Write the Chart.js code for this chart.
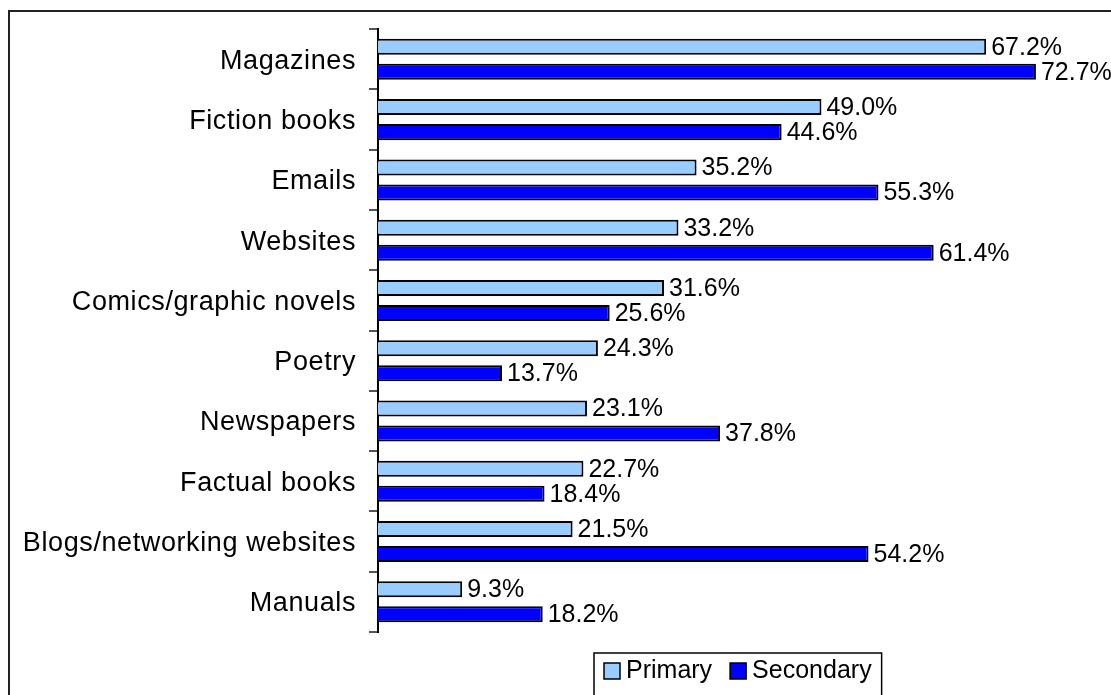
<!DOCTYPE html>
<html>
<head>
<meta charset="utf-8">
<script src="https://cdn.jsdelivr.net/npm/chart.js"></script>
<style>
  html, body { margin: 0; padding: 0; background: #fff; overflow: hidden; }
  #wrap { position: relative; width: 1111px; height: 695px; }
</style>
</head>
<body>
<div id="wrap"><canvas id="chart" width="1111" height="695"></canvas></div>
<script>
const categories = [
    "Magazines", "Fiction books", "Emails", "Websites", "Comics/graphic novels",
    "Poetry", "Newspapers", "Factual books", "Blogs/networking websites", "Manuals"
];
const primary   = [67.2, 49.0, 35.2, 33.2, 31.6, 24.3, 23.1, 22.7, 21.5, 9.3];
const secondary = [72.7, 44.6, 55.3, 61.4, 25.6, 13.7, 37.8, 18.4, 54.2, 18.2];
const seriesNames = ["Primary", "Secondary"];
const seriesColors = ["#99ccff", "#0000ff"];

const FAMILY = "'Liberation Sans', Arial, sans-serif";
const FONT = "25px " + FAMILY;

// outer frame of the chart object
const frame = {
    id: "frame",
    beforeDraw(chart) {
        const ctx = chart.ctx;
        ctx.save();
        ctx.fillStyle = "#fff";
        ctx.fillRect(0, 0, chart.width, chart.height);
        ctx.strokeStyle = "#222";
        ctx.lineWidth = 2;
        ctx.beginPath();
        ctx.moveTo(9, chart.height + 5);
        ctx.lineTo(9, 11);
        ctx.lineTo(chart.width + 5, 11);
        ctx.stroke();
        ctx.restore();
        ctx.letterSpacing = "0.6px";
    },
    beforeDatasetsDraw(chart) {
        chart.ctx.letterSpacing = "0px";
    }
};

// percentages to the right of each bar
const valueLabels = {
    id: "valueLabels",
    afterDatasetsDraw(chart) {
        const ctx = chart.ctx;
        ctx.save();
        ctx.font = FONT;
        ctx.fillStyle = "#000";
        ctx.textAlign = "left";
        ctx.textBaseline = "middle";
        chart.data.datasets.forEach((ds, i) => {
            chart.getDatasetMeta(i).data.forEach((bar, j) => {
                ctx.fillText(ds.data[j].toFixed(1) + "%", bar.x + 5, bar.y + 1);
            });
        });
        ctx.restore();
    }
};

// boxed legend under the plot
const boxLegend = {
    id: "boxLegend",
    afterDraw(chart) {
        const ctx = chart.ctx;
        const area = chart.chartArea;
        ctx.save();
        ctx.font = FONT;
        ctx.textBaseline = "middle";
        const sw = 16, gapText = 6, gapItem = 18, pad = 10;
        const items = chart.data.datasets.map(ds => ({
            label: ds.label, color: ds.backgroundColor, w: ctx.measureText(ds.label).width
        }));
        let total = 0;
        items.forEach((it, i) => { total += sw + gapText + it.w + (i ? gapItem : 0); });
        const boxW = total + pad * 2;
        const boxL = Math.round((area.left + area.right) / 2 - boxW / 2) - 2;
        const boxT = 653;
        ctx.strokeStyle = "#000";
        ctx.lineWidth = 1.5;
        ctx.strokeRect(boxL, boxT, boxW, 60);
        let x = boxL + pad;
        const cy = 671;
        items.forEach((it, i) => {
            if (i) x += gapItem;
            ctx.fillStyle = it.color;
            ctx.fillRect(x, cy - 8, sw, sw);
            ctx.lineWidth = 1.5;
            ctx.strokeRect(x, cy - 8, sw, sw);
            x += sw + gapText;
            ctx.fillStyle = "#000";
            ctx.fillText(it.label, x, cy);
            x += it.w;
        });
        ctx.restore();
    }
};

new Chart(document.getElementById("chart"), {
    type: "bar",
    data: {
        labels: categories,
        datasets: [
            { label: seriesNames[0], data: primary, backgroundColor: seriesColors[0] },
            { label: seriesNames[1], data: secondary, backgroundColor: seriesColors[1] }
        ]
    },
    options: {
        indexAxis: "y",
        responsive: false,
        animation: false,
        layout: { padding: { left: 8, right: 9, top: 28, bottom: 63 } },
        datasets: {
            bar: {
                borderColor: "#000",
                borderWidth: 2,
                categoryPercentage: 0.83,
                barPercentage: 0.64
            }
        },
        plugins: {
            legend: { display: false },
            tooltip: { enabled: false }
        },
        scales: {
            x: { display: false, min: 0, max: 80 },
            y: {
                offset: true,
                afterFit(s) { s.width = 370; },
                border: { display: true, color: "#000", width: 2 },
                grid: {
                    offset: true,
                    drawOnChartArea: false,
                    drawTicks: true,
                    tickLength: 9,
                    color: "#555",
                    lineWidth: 2
                },
                ticks: {
                    color: "#000",
                    padding: 13,
                    labelOffset: 2,
                    font: { family: FAMILY, size: 27 }
                }
            }
        }
    },
    plugins: [frame, valueLabels, boxLegend]
});
</script>
</body>
</html>
